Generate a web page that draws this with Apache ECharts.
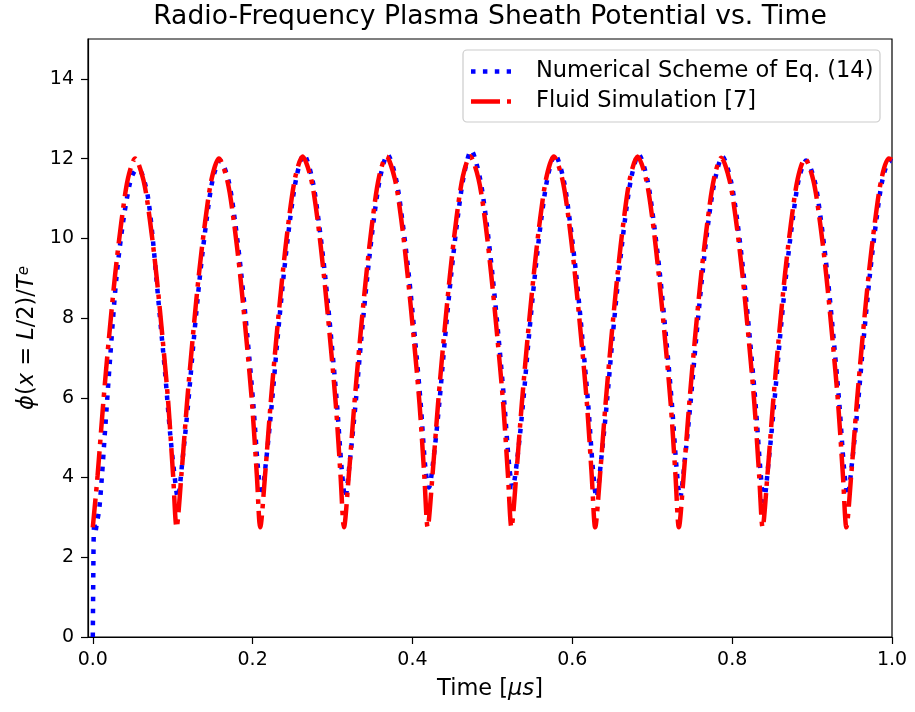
<!DOCTYPE html>
<html>
<head>
<meta charset="utf-8">
<script src="https://cdn.jsdelivr.net/npm/echarts@6/dist/echarts.min.js"></script>
<style>
html,body{margin:0;padding:0;background:#fff;}
#chart{width:915px;height:712px;}
</style>
</head>
<body>
<div id="chart"></div>
<script>
// ---- Data ----
const xTickValues = [0, 0.2, 0.4, 0.6, 0.8, 1.0];
const seriesNames = ['Numerical Scheme of Eq. (14)', 'Fluid Simulation [7]'];

// Fluid Simulation [7] (red, dash-dot)
const fluidTime = [
  0, 0.006, 0.013, 0.020, 0.028, 0.036, 0.044, 0.053, 0.0635, 0.0715, 0.0795, 0.0875, 0.0945, 0.1005,
  0.1048, 0.1108, 0.1178, 0.1248, 0.1328, 0.1408, 0.1488, 0.1578, 0.1683, 0.1763, 0.1843, 0.1923, 0.1993, 0.2053,
  0.2095, 0.2155, 0.2225, 0.2295, 0.2375, 0.2455, 0.2535, 0.2625, 0.2730, 0.2810, 0.2890, 0.2970, 0.3040, 0.3100,
  0.3143, 0.3203, 0.3273, 0.3343, 0.3423, 0.3503, 0.3583, 0.3673, 0.3778, 0.3858, 0.3938, 0.4018, 0.4088, 0.4148,
  0.4190, 0.4250, 0.4320, 0.4390, 0.4470, 0.4550, 0.4630, 0.4720, 0.4825, 0.4905, 0.4985, 0.5065, 0.5135, 0.5195,
  0.5238, 0.5298, 0.5368, 0.5438, 0.5518, 0.5598, 0.5678, 0.5768, 0.5873, 0.5953, 0.6033, 0.6113, 0.6183, 0.6243,
  0.6286, 0.6346, 0.6416, 0.6486, 0.6566, 0.6646, 0.6726, 0.6816, 0.6921, 0.7001, 0.7081, 0.7161, 0.7231, 0.7291,
  0.7333, 0.7393, 0.7463, 0.7533, 0.7613, 0.7693, 0.7773, 0.7863, 0.7968, 0.8048, 0.8128, 0.8208, 0.8278, 0.8338,
  0.8381, 0.8441, 0.8511, 0.8581, 0.8661, 0.8741, 0.8821, 0.8911, 0.9016, 0.9096, 0.9176, 0.9256, 0.9326, 0.9386,
  0.9429, 0.9489, 0.9559, 0.9629, 0.9709, 0.9789, 0.9869, 0.9959, 1.0
];
const fluidPhi = [
  2.75, 4.05, 5.85, 7.45, 9.1, 10.45, 11.5, 12.0, 11.45, 10.45, 9.1, 7.45, 5.85, 4.05,
  2.75, 4.05, 5.85, 7.45, 9.1, 10.45, 11.5, 12.0, 11.45, 10.45, 9.1, 7.45, 5.85, 4.05,
  2.75, 4.05, 5.85, 7.45, 9.1, 10.5, 11.55, 12.05, 11.5, 10.5, 9.1, 7.45, 5.85, 4.05,
  2.75, 4.05, 5.85, 7.45, 9.1, 10.5, 11.55, 12.05, 11.5, 10.5, 9.1, 7.45, 5.85, 4.05,
  2.75, 4.05, 5.85, 7.45, 9.1, 10.5, 11.55, 12.06, 11.5, 10.5, 9.1, 7.45, 5.85, 4.05,
  2.75, 4.05, 5.85, 7.45, 9.1, 10.5, 11.55, 12.05, 11.5, 10.5, 9.1, 7.45, 5.85, 4.05,
  2.75, 4.05, 5.85, 7.45, 9.1, 10.5, 11.55, 12.05, 11.5, 10.5, 9.1, 7.45, 5.85, 4.05,
  2.75, 4.05, 5.85, 7.45, 9.1, 10.45, 11.5, 12.02, 11.45, 10.45, 9.1, 7.45, 5.85, 4.05,
  2.75, 4.05, 5.85, 7.45, 9.1, 10.45, 11.5, 12.0, 11.45, 10.45, 9.1, 7.45, 5.85, 4.05,
  2.75, 4.05, 5.85, 7.45, 9.1, 10.45, 11.5, 12.0, 11.97
];

// Numerical Scheme of Eq. (14) (blue, dotted)
const numTime = [
  0, 0.0004, 0.0008, 0.0012, 0.002, 0.003, 0.005, 0.008, 0.0113, 0.0154, 0.0217, 0.0295, 0.0375, 0.0455, 0.050, 0.055, 0.060, 0.065, 0.0696, 0.075, 0.080, 0.0855, 0.0905, 0.0967, 0.102,
  0.1063, 0.1123, 0.1193, 0.1263, 0.1343, 0.1423, 0.1503, 0.1593, 0.1698, 0.1778, 0.1858, 0.1938, 0.2008, 0.2068,
  0.2110, 0.2170, 0.2240, 0.2310, 0.2390, 0.2470, 0.2550, 0.2640, 0.2745, 0.2825, 0.2905, 0.2985, 0.3055, 0.3115,
  0.3158, 0.3218, 0.3288, 0.3358, 0.3438, 0.3518, 0.3598, 0.3688, 0.3793, 0.3873, 0.3953, 0.4033, 0.4103, 0.4163,
  0.4205, 0.4265, 0.4335, 0.4405, 0.4485, 0.4565, 0.4645, 0.4735, 0.4840, 0.4920, 0.5000, 0.5080, 0.5150, 0.5210,
  0.5253, 0.5313, 0.5383, 0.5453, 0.5533, 0.5613, 0.5693, 0.5783, 0.5888, 0.5968, 0.6048, 0.6128, 0.6198, 0.6258,
  0.6301, 0.6361, 0.6431, 0.6501, 0.6581, 0.6661, 0.6741, 0.6831, 0.6936, 0.7016, 0.7096, 0.7176, 0.7246, 0.7306,
  0.7348, 0.7408, 0.7478, 0.7548, 0.7628, 0.7708, 0.7788, 0.7878, 0.7983, 0.8063, 0.8143, 0.8223, 0.8293, 0.8353,
  0.8396, 0.8456, 0.8526, 0.8596, 0.8676, 0.8756, 0.8836, 0.8926, 0.9031, 0.9111, 0.9191, 0.9271, 0.9341, 0.9401,
  0.9444, 0.9504, 0.9574, 0.9644, 0.9724, 0.9804, 0.9884, 0.9974, 1.0
];
const numPhi = [
  0, 1.0, 2.0, 2.6, 2.9, 2.6, 2.85, 3.2, 4.0, 5.2, 7.0, 9.0, 10.35, 11.3, 11.6, 11.72, 11.68, 11.4, 10.96, 10.0, 8.9, 7.7, 6.62, 5.12, 4.1,
  3.5, 4.45, 5.85, 7.45, 9.1, 10.45, 11.5, 11.95, 11.45, 10.45, 9.1, 7.45, 5.85, 4.2,
  3.55, 4.45, 5.85, 7.45, 9.1, 10.5, 11.55, 12.1, 11.5, 10.45, 9.1, 7.45, 5.85, 4.2,
  3.5, 4.45, 5.85, 7.45, 9.1, 10.5, 11.55, 12.1, 11.5, 10.45, 9.1, 7.45, 5.85, 4.2,
  3.75, 4.5, 5.85, 7.45, 9.1, 10.5, 11.6, 12.2, 11.55, 10.5, 9.1, 7.45, 5.85, 4.3,
  3.75, 4.5, 5.85, 7.45, 9.1, 10.5, 11.55, 12.1, 11.5, 10.45, 9.1, 7.45, 5.85, 4.2,
  3.5, 4.45, 5.85, 7.45, 9.1, 10.5, 11.55, 12.1, 11.5, 10.45, 9.1, 7.45, 5.85, 4.2,
  3.5, 4.45, 5.85, 7.45, 9.1, 10.5, 11.5, 12.05, 11.45, 10.45, 9.1, 7.45, 5.85, 4.2,
  3.4, 4.4, 5.85, 7.45, 9.1, 10.45, 11.5, 11.95, 11.45, 10.45, 9.1, 7.45, 5.85, 4.2,
  3.55, 4.45, 5.85, 7.45, 9.1, 10.45, 11.5, 11.95, 11.93
];

// ---- Chart ----
const FONT = 'DejaVu Sans';
const BLUE = '#0000ff', RED = '#ff0000';
const blueDash = [4.5, 7.4];
const redDash = [29, 7, 4.5, 7];
const chart = echarts.init(document.getElementById('chart'), null, {renderer: 'canvas'});
const zip = (xs, ys) => xs.map((x, i) => [x, ys[i]]);

const tickText = {fontFamily: FONT, fontSize: 19, color: '#000'};
const LBL = 22.5;

chart.setOption({
  animation: false,
  backgroundColor: '#fff',
  title: {
    text: 'Radio-Frequency Plasma Sheath Potential vs. Time',
    left: 490,
    top: 4,
    textAlign: 'center',
    padding: 0,
    textStyle: {fontFamily: FONT, fontSize: 26.6, fontWeight: 'normal', color: '#000'}
  },
  grid: {
    left: 88, right: 23, top: 39, bottom: 75,
    show: true, borderColor: '#000', borderWidth: 1.2, backgroundColor: 'transparent'
  },
  xAxis: {
    type: 'value',
    min: -0.006,
    max: 1.0,
    name: '{n|Time [}{i|μs}{n|]}',
    nameLocation: 'middle',
    nameGap: 41,
    nameTextStyle: {
      rich: {
        n: {fontFamily: FONT, fontSize: LBL, color: '#000'},
        i: {fontFamily: FONT, fontSize: LBL, color: '#000', fontStyle: 'italic'}
      }
    },
    axisLine: {show: true, onZero: false, lineStyle: {color: '#000', width: 1.2}},
    axisTick: {show: true, inside: false, length: 7, lineStyle: {color: '#000', width: 1.2}, customValues: xTickValues},
    axisLabel: {show: true, margin: 14, ...tickText, customValues: xTickValues, formatter: v => v.toFixed(1)},
    splitLine: {show: false}
  },
  yAxis: {
    type: 'value',
    min: 0,
    max: 15,
    interval: 2,
    name: '{i|ϕ}{n|(}{i|x}{n| = }{i|L}{n|/2)/}{i|T}{s|e}',
    nameLocation: 'middle',
    nameGap: 45,
    nameTextStyle: {
      rich: {
        n: {fontFamily: FONT, fontSize: LBL, color: '#000', lineHeight: 30, verticalAlign: 'middle'},
        i: {fontFamily: FONT, fontSize: LBL, color: '#000', fontStyle: 'italic', lineHeight: 30, verticalAlign: 'middle'},
        s: {fontFamily: FONT, fontSize: 15, color: '#000', fontStyle: 'italic', lineHeight: 30, verticalAlign: 'top', padding: [4, 0, 0, 0]}
      }
    },
    axisLine: {show: true, onZero: false, lineStyle: {color: '#000', width: 1.2}},
    axisTick: {show: true, inside: false, length: 7, lineStyle: {color: '#000', width: 1.2}},
    axisLabel: {show: true, margin: 14, ...tickText, showMaxLabel: false},
    splitLine: {show: false}
  },
  graphic: [
    {
      type: 'rect', z: 100,
      shape: {x: 463, y: 50, width: 417, height: 72, r: 4},
      style: {fill: 'rgba(255,255,255,0.8)', stroke: '#cccccc', lineWidth: 1.2}
    },
    {
      type: 'line', z: 101,
      shape: {x1: 471, y1: 71.5, x2: 511, y2: 71.5},
      style: {stroke: BLUE, lineWidth: 4.5, lineDash: blueDash, lineCap: 'butt'}
    },
    {
      type: 'line', z: 101,
      shape: {x1: 471, y1: 101.5, x2: 511, y2: 101.5},
      style: {stroke: RED, lineWidth: 4.5, lineDash: redDash, lineCap: 'butt'}
    },
    {
      type: 'text', z: 101, x: 536, y: 71.5,
      style: {text: seriesNames[0], fontFamily: FONT, fontSize: LBL, fill: '#000', verticalAlign: 'middle', align: 'left'}
    },
    {
      type: 'text', z: 101, x: 536, y: 101.5,
      style: {text: seriesNames[1], fontFamily: FONT, fontSize: LBL, fill: '#000', verticalAlign: 'middle', align: 'left'}
    }
  ],
  series: [
    {
      name: seriesNames[0],
      type: 'line',
      data: zip(numTime, numPhi),
      symbol: 'none',
      smooth: 0.3,
      clip: true,
      lineStyle: {color: BLUE, width: 4.5, type: blueDash, cap: 'butt'},
      itemStyle: {color: BLUE},
      z: 2
    },
    {
      name: seriesNames[1],
      type: 'line',
      data: zip(fluidTime, fluidPhi),
      symbol: 'none',
      smooth: 0.3,
      clip: true,
      lineStyle: {color: RED, width: 4.5, type: redDash, cap: 'butt'},
      itemStyle: {color: RED},
      z: 3
    }
  ]
});
</script>
</body>
</html>
